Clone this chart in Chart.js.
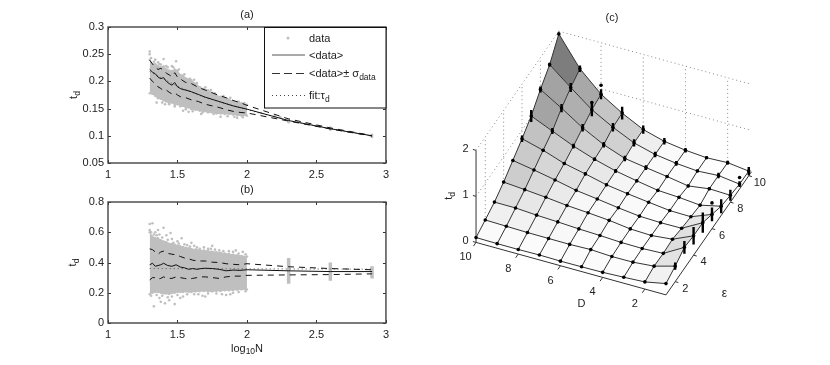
<!DOCTYPE html>
<html>
<head>
<meta charset="utf-8">
<script src="https://cdn.jsdelivr.net/npm/chart.js@4"></script>
<style>
html,body{margin:0;padding:0;background:#fff;overflow:hidden}
canvas{position:absolute;display:block;filter:blur(0.35px)}
</style>
</head>
<body>
<canvas id="pa" width="394" height="180" style="left:0;top:0;width:394px;height:180px"></canvas>
<canvas id="pb" width="394" height="185" style="left:0;top:180px;width:394px;height:185px"></canvas>
<canvas id="pc" width="436" height="365" style="left:394px;top:0;width:436px;height:365px"></canvas>
<script>
/* ---------- panels (a), (b): shared ---------- */
const xTicks = [1, 1.5, 2, 2.5, 3];
const yTicksA = [0.05, 0.1, 0.15, 0.2, 0.25, 0.3];
const yTicksB = [0, 0.2, 0.4, 0.6, 0.8];
const legendLabels = ['data', '<data>', '<data>\u00b1 \u03c3', 'fit:\u03c4'];

const cloudX = [1.30,1.32,1.34,1.36,1.38,1.40,1.42,1.44,1.46,1.48,1.50,1.52,1.54,1.56,1.58,1.60,1.63,1.66,1.69,1.72,1.75,1.78,1.81,1.84,1.87,1.90,1.93,1.96,2.00];

/* panel (a) */
const cloudHighA = [.240,.232,.232,.229,.226,.228,.222,.220,.219,.222,.220,.212,.211,.206,.204,.202,.196,.190,.186,.184,.179,.174,.172,.169,.167,.164,.162,.160,.157];
const cloudLowA  = [.178,.177,.173,.169,.168,.165,.163,.160,.161,.157,.158,.154,.155,.152,.152,.149,.148,.146,.145,.143,.143,.141,.141,.140,.140,.139,.138,.137,.137];
const strayXA = [1.30,1.30,1.31,1.34,1.36,1.38,1.40,1.42,1.47,1.49,1.52,1.35,1.39,1.44,1.54,1.58,1.67,1.81,1.93,2.30,2.30,2.60,2.60,2.90,2.90,2.10,2.20,2.24,1.33,1.37,1.43,1.46,1.51,1.55,1.59,1.62,1.64,1.70,1.74,1.77,1.83,1.88,1.94,1.98,1.41,1.48,1.56,1.61,1.68,1.76,1.86,1.91,1.97];
const strayYA = [.255,.25,.243,.24,.235,.231,.241,.228,.226,.237,.211,.161,.161,.158,.146,.144,.140,.135,.133,.130,.125,.115,.111,.102,.098,.142,.136,.134,.236,.232,.226,.228,.222,.213,.205,.203,.197,.189,.184,.178,.173,.170,.163,.160,.158,.154,.149,.145,.143,.140,.136,.135,.134];
const lineXA = [1.30,1.32,1.34,1.36,1.38,1.40,1.42,1.44,1.46,1.48,1.50,1.52,1.54,1.56,1.60,1.65,1.70,1.75,1.80,1.85,1.90,1.95,2.00,2.30,2.60,2.90];
const meanA  = [.222,.217,.214,.208,.205,.207,.200,.196,.193,.198,.190,.187,.185,.184,.181,.176,.171,.167,.163,.159,.155,.152,.149,.128,.113,.100];
const upperA = [.239,.232,.226,.222,.224,.221,.215,.212,.209,.216,.208,.205,.201,.198,.196,.189,.184,.179,.174,.170,.165,.161,.156,.131,.1145,.1005];
const lowerA = [.206,.200,.196,.190,.187,.183,.184,.180,.177,.179,.175,.172,.170,.170,.166,.163,.158,.155,.152,.148,.145,.143,.142,.127,.1125,.0995];
const fitXA = [1.30,1.50,1.70,2.00,2.30,2.60,2.90];
const fitYA = [.218,.191,.170,.148,.128,.113,.100];

/* panel (b) */
const cloudHighB = [.600,.570,.562,.560,.548,.540,.535,.525,.522,.518,.512,.508,.502,.498,.494,.490,.486,.482,.480,.476,.472,.468,.464,.460,.456,.452,.448,.444,.440];
const cloudLowB  = [.190,.200,.205,.205,.200,.195,.195,.192,.198,.200,.205,.205,.205,.208,.206,.205,.208,.210,.212,.210,.208,.212,.212,.216,.216,.218,.220,.222,.222];
const strayXB = [1.30,1.32,1.36,1.40,1.45,1.53,1.33,1.38,1.41,1.44,1.48,1.52,1.68,1.70,1.85,1.88,1.34,1.42,1.60,1.75,1.92,1.97,
  1.30,1.31,1.33,1.35,1.37,1.39,1.43,1.46,1.47,1.50,1.51,1.55,1.57,1.59,1.62,1.64,1.66,1.69,1.72,1.74,1.77,1.80,1.83,1.87,1.90,1.94,1.99,
  1.31,1.35,1.37,1.39,1.43,1.46,1.50,1.54,1.57,1.62,1.65,1.72,1.78,1.82,1.90,1.94,1.99];
const strayYB = [.655,.66,.615,.63,.595,.56,.11,.14,.13,.15,.125,.165,.18,.175,.185,.19,.60,.58,.53,.51,.48,.47,
  .615,.60,.585,.58,.585,.565,.55,.555,.53,.54,.525,.52,.515,.505,.51,.50,.49,.50,.49,.49,.485,.48,.475,.475,.47,.46,.455,
  .18,.185,.165,.18,.17,.175,.185,.175,.19,.19,.19,.195,.195,.19,.20,.205,.21];
const lineXB = [1.30,1.32,1.34,1.36,1.38,1.40,1.43,1.46,1.49,1.52,1.55,1.58,1.61,1.64,1.67,1.70,1.75,1.80,1.85,1.90,1.95,2.00,2.30,2.60,2.90];
const meanB  = [.385,.395,.375,.380,.385,.395,.380,.375,.385,.370,.365,.355,.360,.355,.360,.362,.360,.355,.345,.350,.348,.352,.345,.340,.340];
const upperB = [.490,.485,.470,.455,.470,.475,.460,.455,.450,.440,.430,.425,.415,.412,.410,.410,.402,.400,.392,.388,.385,.392,.372,.360,.352];
const lowerB = [.285,.300,.300,.290,.295,.305,.295,.295,.305,.300,.295,.290,.295,.300,.305,.305,.300,.295,.305,.310,.310,.315,.318,.320,.325];
const fitXB = [1.30,2.90];
const fitYB = [.360,.356];
const stripX = [2.30,2.60,2.90];
const stripLow = [.26,.28,.295];
const stripHigh = [.43,.40,.375];

/* ---------- panel (c): t_d over D and epsilon ---------- */
const dValues = [10,9,8,7,6,5,4,3,2,1];
const epsValues = [1,2,3,4,5,6,7,8,9,10];
/* rows: D = 10 ... 1, columns: eps = 1 ... 10 */
const tdGrid = [
 [.106,.20,.30,.447,.63,.815,1.02,1.31,1.56,1.94],
 [.10,.19,.30,.41,.55,.69,.82,1.03,1.19,1.31],
 [.10,.18,.27,.37,.46,.53,.62,.73,.835,.884],
 [.107,.178,.25,.32,.36,.43,.46,.49,.58,.60],
 [.10,.176,.225,.288,.30,.32,.333,.318,.367,.37],
 [.103,.19,.208,.25,.234,.253,.245,.245,.243,.24],
 [.11,.165,.185,.19,.18,.195,.165,.178,.176,.174],
 [.13,.17,.18,.174,.165,.14,.14,.10,.137,.137],
 [.155,.21,.20,.22,.17,.133,.097,.165,.165,.157],
 [.245,.337,.457,.42,.418,.31,.20,.15,.105,.10]
];
const sigmaGrid = [
 [.02,.02,.02,.02,.02,.07,.13,.065,.04,.02],
 [.02,.02,.02,.02,.02,.03,.065,.09,.10,.07],
 [.02,.02,.02,.02,.02,.03,.05,.08,.14,.11],
 [.02,.02,.02,.02,.02,.03,.04,.06,.09,.14],
 [.02,.02,.02,.02,.02,.03,.04,.06,.08,.09],
 [.02,.02,.02,.02,.02,.03,.03,.05,.06,.07],
 [.02,.02,.02,.02,.02,.02,.03,.03,.05,.05],
 [.02,.02,.02,.02,.02,.02,.02,.03,.03,.03],
 [.02,.02,.02,.02,.02,.02,.02,.03,.06,.04],
 [.02,.08,.14,.19,.22,.15,.15,.12,.06,.09]
];
/* isolated outlier marks above some of the stems */
const outlierD = [8,8,1,1];
const outlierEps = [10,9,6,9];
const outlierT = [1.077,.99,.56,.25];
const dTicks = [10,8,6,4,2];
const epsTicks = [2,4,6,8,10];
const zTicks = [0,1,2];

/* ---------- helpers ---------- */
const FONT = '"Liberation Sans", Arial, sans-serif';
const INK = '#222';
const GRAY = '#bfbfbf';
const pts = (xs, ys) => xs.map((x, i) => ({x, y: ys[i]}));
const font = s => s + 'px ' + FONT;

function drawSubText(ctx, parts, x, y, align) {
  /* parts: [text, isSub] ; y is vertical middle of the main text */
  ctx.textBaseline = 'alphabetic';
  ctx.textAlign = 'left';
  let w = 0;
  parts.forEach(p => { ctx.font = font(p[1] ? 8.5 : 11); w += ctx.measureText(p[0]).width; });
  let cx = align === 'center' ? x - w / 2 : x;
  parts.forEach(p => {
    ctx.font = font(p[1] ? 8.5 : 11);
    ctx.fillText(p[0], cx, y + (p[1] ? 6.5 : 4));
    cx += ctx.measureText(p[0]).width;
  });
}

function frameScale(axis, ticks, range, fit) {
  return {
    type: 'linear', min: range[0], max: range[1],
    grid: {display: false, drawTicks: false},
    border: {display: false},
    afterBuildTicks: s => { s.ticks = ticks.map(v => ({value: v})); },
    afterFit: s => { if (axis === 'x') s.height = fit; else s.width = fit; },
    ticks: {
      autoSkip: false, maxRotation: 0, padding: axis === 'x' ? 5 : 4,
      color: INK, font: {family: FONT, size: 11},
      callback: v => String(v)
    }
  };
}

const framePlugin = {
  id: 'frame',
  afterDatasetsDraw(chart) {
    const {ctx, chartArea: a, scales: {x, y}} = chart;
    ctx.save();
    ctx.strokeStyle = '#333';
    ctx.lineWidth = 1;
    ctx.beginPath();
    xTicks.forEach(v => {
      const p = Math.round(x.getPixelForValue(v)) + .5;
      ctx.moveTo(p, a.bottom); ctx.lineTo(p, a.bottom - 3);
      ctx.moveTo(p, a.top); ctx.lineTo(p, a.top + 3);
    });
    y.ticks.forEach(t => {
      const p = Math.round(y.getPixelForValue(t.value)) + .5;
      ctx.moveTo(a.left, p); ctx.lineTo(a.left + 3, p);
      ctx.moveTo(a.right, p); ctx.lineTo(a.right - 3, p);
    });
    ctx.stroke();
    ctx.lineWidth = 1.4;
    ctx.strokeStyle = '#444';
    ctx.strokeRect(a.left, a.top, a.width, a.height);
    ctx.fillStyle = INK;
    ctx.translate(chart.options.plugins.frame.yLabelX, (a.top + a.bottom) / 2);
    ctx.rotate(-Math.PI / 2);
    drawSubText(ctx, [['t', 0], ['d', 1]], 0, 0, 'center');
    ctx.restore();
  }
};

const legendPlugin = {
  id: 'boxLegend',
  afterDatasetsDraw(chart) {
    const {ctx} = chart;
    const L = 264, T = 27.5, R = 386, B = 108;
    ctx.save();
    ctx.fillStyle = '#fff';
    ctx.fillRect(L, T, R - L, B - T);
    ctx.strokeStyle = '#111';
    ctx.lineWidth = 1;
    ctx.strokeRect(L + .5, T, R - L - .5, B - T);
    const ys = [38, 54.5, 73, 95];
    ctx.fillStyle = GRAY;
    ctx.beginPath(); ctx.arc(288, ys[0], 1.5, 0, 7); ctx.fill();
    const sample = (y, dash, color, width) => {
      ctx.setLineDash(dash);
      ctx.strokeStyle = color;
      ctx.lineWidth = width;
      ctx.beginPath(); ctx.moveTo(272, y + .5); ctx.lineTo(305, y + .5); ctx.stroke();
    };
    sample(ys[1], [], '#555', 1);
    sample(ys[2], [8, 4], '#333', 1);
    sample(ys[3], [1, 3], '#444', 1);
    ctx.setLineDash([]);
    ctx.fillStyle = INK;
    drawSubText(ctx, [[legendLabels[0], 0]], 309, ys[0]);
    drawSubText(ctx, [[legendLabels[1], 0]], 309, ys[1]);
    drawSubText(ctx, [[legendLabels[2], 0], ['data', 1]], 309, ys[2]);
    drawSubText(ctx, [[legendLabels[3], 0], ['d', 1]], 309, ys[3]);
    ctx.restore();
  }
};

const xLabelPlugin = {
  id: 'xLabel',
  afterDraw(chart) {
    const {ctx} = chart;
    ctx.save();
    ctx.fillStyle = INK;
    drawSubText(ctx, [['log', 0], ['10', 1], ['N', 0]], 247, 167.5, 'center');
    ctx.restore();
  }
};

function lineSet(data, color, width, dash) {
  return {data, showLine: true, borderColor: color, backgroundColor: color, borderWidth: width,
    borderDash: dash || [], pointRadius: 0, tension: 0, fill: false};
}
function strayPts(data) {
  return {data, showLine: false, pointRadius: 1.3, pointBorderWidth: 0, pointBackgroundColor: GRAY};
}
function cloudSets(xs, hi, lo) {
  return [
    {data: pts(xs, hi), showLine: true, borderColor: GRAY, backgroundColor: GRAY, borderWidth: 1,
     pointRadius: 1.2, pointBorderWidth: 0, pointBackgroundColor: GRAY, fill: '+1', tension: 0},
    {data: pts(xs, lo), showLine: true, borderColor: GRAY, borderWidth: 1,
     pointRadius: 1.2, pointBorderWidth: 0, pointBackgroundColor: GRAY, fill: false, tension: 0}
  ];
}
function panelOptions(title, yTicks, yRange, padTop, padBottom, bottomH, yLabelX) {
  return {
    responsive: false, animation: false, events: [],
    layout: {padding: {left: 0, right: 8, top: 0, bottom: 0}},
    plugins: {
      legend: {display: false}, tooltip: {enabled: false},
      title: {display: true, text: title, color: INK, fullSize: false,
        font: {family: FONT, size: 11, weight: 'normal', lineHeight: 1.2},
        padding: {top: padTop, bottom: padBottom}},
      frame: {yLabelX}
    },
    scales: {
      x: frameScale('x', xTicks, [1, 3], bottomH),
      y: frameScale('y', yTicks, yRange, 108)
    }
  };
}

/* panel (a): first dataset is painted last */
new Chart(document.getElementById('pa'), {
  type: 'scatter',
  data: {datasets: [
    lineSet(pts(lineXA, meanA), '#111', 1),
    lineSet(pts(lineXA, upperA), '#111', 1, [6, 5]),
    lineSet(pts(lineXA, lowerA), '#111', 1, [6, 5]),
    lineSet(pts(fitXA, fitYA), '#555', 1, [1, 3]),
    strayPts(pts(strayXA, strayYA)),
    ...cloudSets(cloudX, cloudHighA, cloudLowA)
  ]},
  options: panelOptions('(a)', yTicksA, [0.05, 0.3], 8.4, 5.4, 17, 73),
  plugins: [framePlugin, legendPlugin]
});

/* panel (b) */
const stripSegments = [];
stripX.forEach((x, i) => {
  stripSegments.push({x, y: stripLow[i]}, {x, y: stripHigh[i]}, {x: NaN, y: NaN});
});
new Chart(document.getElementById('pb'), {
  type: 'scatter',
  data: {datasets: [
    lineSet(pts(lineXB, meanB), '#111', 1),
    lineSet(pts(lineXB, upperB), '#111', 1, [6, 5]),
    lineSet(pts(lineXB, lowerB), '#111', 1, [6, 5]),
    lineSet(pts(fitXB, fitYB), '#555', 1, [1, 3]),
    lineSet(stripSegments, GRAY, 3.5),
    strayPts(pts(strayXB, strayYB)),
    ...cloudSets(cloudX, cloudHighB, cloudLowB)
  ]},
  options: panelOptions('(b)', yTicksB, [0, 0.8], 3.4, 5.4, 42, 72),
  plugins: [framePlugin, xLabelPlugin]
});

/* panel (c): orthographic view of the (D, eps, t_d) space */
function project(D, e, z) {
  return {
    x: 473.5 + (10 - D) * 21.5 + (e - 1) * 9.37,
    y: 245 + (10 - D) * 5.9 - (e - 1) * 13.4 - z * 46.6
  };
}
const GAP = {x: NaN, y: NaN};
/* shaded like a lit surface: steep cells are dark, low flat cells are white */
function cellGray(i, j) {
  const a = tdGrid[i][j], b = tdGrid[i + 1][j], c = tdGrid[i + 1][j + 1], d = tdGrid[i][j + 1];
  const dD = ((a - b) + (d - c)) / 2;
  const dE = ((d - a) + (c - b)) / 2;
  const slope = Math.hypot(dD * 0.85, dE * 1.2);
  const mean = (a + b + c + d) / 4;
  const g = Math.round(255 - 250 * slope * Math.min(1, Math.max(0, mean - 0.08) / 0.35));
  return 'rgb(' + g + ',' + g + ',' + g + ')';
}
const node = (i, j) => project(dValues[i], epsValues[j], tdGrid[i][j]);

const cellSets = [];
for (let i = dValues.length - 2; i >= 0; i--) {
  for (let j = 0; j < epsValues.length - 1; j++) {
    const poly = [[i, j], [i + 1, j], [i + 1, j + 1], [i, j + 1]].map(c => node(c[0], c[1]));
    poly.push(poly[0]);
    cellSets.push({data: poly, showLine: true, borderWidth: 0, borderColor: 'transparent',
      backgroundColor: cellGray(i, j), pointRadius: 0, fill: 'shape', tension: 0, clip: false});
  }
}
const wires = [];
dValues.forEach((d, i) => { epsValues.forEach((e, j) => wires.push(node(i, j))); wires.push(GAP); });
epsValues.forEach((e, j) => { dValues.forEach((d, i) => wires.push(node(i, j))); wires.push(GAP); });
const nodes = [];
const stems = [];
dValues.forEach((d, i) => epsValues.forEach((e, j) => {
  nodes.push(node(i, j));
  const s = sigmaGrid[i][j];
  if (s > 0.025) {
    stems.push(project(d, e, tdGrid[i][j] - s), project(d, e, tdGrid[i][j] + s), GAP);
  }
}));
outlierD.forEach((d, i) => nodes.push(project(d, outlierEps[i], outlierT[i])));
const dotted = [];
const seg = (a, b) => dotted.push(a, b, GAP);
const zMaxBox = zTicks[zTicks.length - 1];
[1, zMaxBox].forEach(z => {
  seg(project(10, 1, z), project(10, 10, z));
  seg(project(10, 10, z), project(1, 10, z));
});
dTicks.slice(1).forEach(d => seg(project(d, 10, 0), project(d, 10, zMaxBox)));
epsTicks.slice(0, 4).forEach(e => seg(project(10, e, 0), project(10, e, zMaxBox)));
seg(project(10, 10, 0), project(10, 10, zMaxBox));

const axisSegs = [];
const aseg = (a, b) => axisSegs.push(a, b, GAP);
aseg(project(10, 1, 0), project(1, 1, 0));
aseg(project(1, 1, 0), project(1, 10.3, 0));
aseg(project(10, 1, 0), project(10, 1, zMaxBox));
dTicks.forEach(d => aseg(project(d, 1, 0), project(d, 0.72, 0)));
epsTicks.forEach(e => aseg(project(1, e, 0), project(0.85, e, 0)));
zTicks.forEach(z => aseg(project(10, 1, z), project(10.15, 1, z)));

const labelsPlugin = {
  id: 'labels3d',
  afterDraw(chart) {
    const {ctx, scales: {x, y}} = chart;
    const put = (text, p, dx, dy) => {
      ctx.fillText(text, x.getPixelForValue(p.x) + dx, y.getPixelForValue(p.y) + dy);
    };
    ctx.save();
    ctx.fillStyle = INK;
    ctx.font = font(11);
    ctx.textAlign = 'center';
    ctx.textBaseline = 'middle';
    zTicks.forEach(z => put(String(z), project(10, 1, z), -10.5, -1));
    dTicks.forEach(d => put(String(d), project(d, 1, 0), d === 10 ? -10.5 : -10, 15));
    epsTicks.forEach(e => put(String(e), project(1, e, 0), e === 10 ? 11 : 10, 7));
    put('D', project(5, 1, 0), 0, 32);
    ctx.font = font(12);
    put('\u03b5', project(1, 3, 0), 40, 25);
    ctx.translate(x.getPixelForValue(445), y.getPixelForValue(198));
    ctx.rotate(-Math.PI / 2);
    drawSubText(ctx, [['t', 0], ['d', 1]], 0, 0, 'center');
    ctx.restore();
  }
};

new Chart(document.getElementById('pc'), {
  type: 'scatter',
  data: {datasets: [
    {data: nodes, showLine: false, pointRadius: 1.8, pointBorderWidth: 0, pointBackgroundColor: '#000', clip: false},
    lineSet(stems, '#000', 2.4),
    lineSet(wires, '#333', 1),
    ...cellSets,
    lineSet(dotted, '#888', 1, [1, 3]),
    lineSet(axisSegs, '#333', 1)
  ]},
  options: {
    responsive: false, animation: false, events: [],
    layout: {padding: 0},
    plugins: {
      legend: {display: false}, tooltip: {enabled: false},
      filler: {drawTime: 'beforeDatasetDraw'},
      title: {display: true, text: '(c)', color: INK,
        font: {family: FONT, size: 11, weight: 'normal', lineHeight: 1.2},
        padding: {top: 11.4, bottom: 1.4}}
    },
    scales: {
      x: {type: 'linear', display: false, min: 394, max: 830},
      y: {type: 'linear', display: false, min: 26, max: 365, reverse: true}
    }
  },
  plugins: [labelsPlugin]
});
</script>
</body>
</html>
